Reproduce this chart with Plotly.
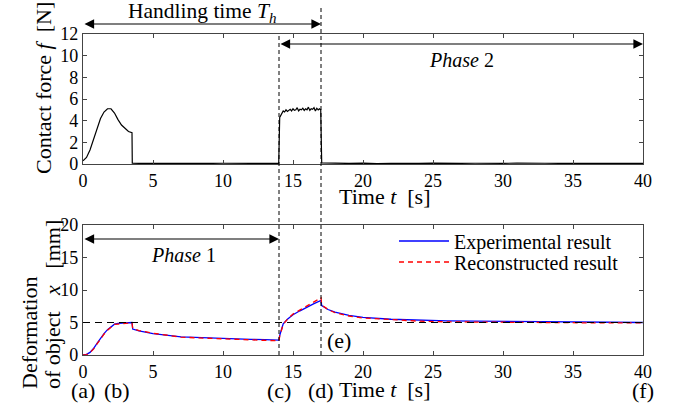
import plotly.graph_objects as go

# ---- Data: contact force (top panel) ----
force_t = [0, 0.25, 0.5, 0.75, 1.0, 1.25, 1.5, 1.75, 2.0, 2.25, 2.5, 2.75, 3.0, 3.25, 3.5, 3.52,
           4, 5, 6, 7, 8, 9, 10, 11, 12, 13, 13.98,
           14.05, 14.2, 14.3, 14.4, 14.5, 14.6, 14.7, 14.8, 14.9, 15.0, 15.1, 15.2, 15.3, 15.4, 15.5,
           15.6, 15.7, 15.8, 15.9, 16.0, 16.1, 16.2, 16.3, 16.4, 16.5, 16.6, 16.7, 16.8, 16.9, 16.98,
           17.05, 18, 19, 20, 21, 22, 23, 24, 25, 26, 27, 28, 29, 30, 31, 32, 33, 34, 35, 36, 37, 38, 39, 40]
force_f = [0.3, 0.6, 1.3, 2.3, 3.3, 4.2, 4.8, 5.1, 5.1, 4.7, 4.1, 3.6, 3.3, 3.0, 2.9, 0.08,
           0.06, 0.05, 0.08, 0.04, 0.06, 0.05, 0.07, 0.04, 0.06, 0.05, 0.05,
           4.3, 4.75, 4.9, 4.8, 5.0, 4.85, 4.95, 5.05, 4.9, 5.1, 4.95, 5.0, 5.2, 4.9, 5.05,
           5.0, 5.15, 4.95, 5.1, 5.0, 5.25, 4.95, 5.1, 5.05, 5.2, 4.9, 5.15, 5.0, 5.1, 5.0,
           0.1, 0.06, 0.05, 0.08, 0.04, 0.07, 0.05, 0.06, 0.08, 0.05, 0.06, 0.07, 0.04, 0.06, 0.08,
           0.05, 0.07, 0.06, 0.05, 0.08, 0.06, 0.05, 0.07, 0.06, 0.05]

# ---- Data: deformation (bottom panel) ----
def_t = [0, 0.25, 0.5, 0.75, 1.0, 1.25, 1.5, 1.75, 2.0, 2.25, 2.5, 3.0, 3.5, 3.55, 4, 5, 6, 7, 8, 9,
         10, 11, 12, 13, 14, 14.05, 14.3, 14.6, 15, 15.5, 16, 16.5, 17, 17.05, 17.5, 18, 19, 20,
         22, 24, 26, 28, 30, 32, 34, 36, 38, 40]
exp_x = [0, 0.1, 0.4, 1.0, 1.8, 2.6, 3.3, 3.9, 4.4, 4.75, 4.85, 4.9, 5.0, 4.0, 3.7, 3.3, 3.0, 2.8, 2.7, 2.6,
         2.5, 2.45, 2.4, 2.35, 2.3, 3.0, 4.8, 5.5, 6.2, 6.8, 7.4, 7.9, 8.4, 7.6, 7.0, 6.6, 6.1, 5.8,
         5.5, 5.35, 5.25, 5.2, 5.15, 5.1, 5.05, 5.05, 5.0, 5.0]
rec_x = [0, 0.05, 0.35, 0.9, 1.7, 2.5, 3.2, 3.8, 4.3, 4.7, 4.75, 4.8, 4.95, 4.1, 3.75, 3.35, 3.05, 2.75, 2.65, 2.55,
         2.45, 2.35, 2.3, 2.25, 2.2, 2.9, 4.7, 5.5, 6.3, 6.9, 7.5, 8.1, 8.8, 7.7, 7.0, 6.5, 6.0, 5.7,
         5.4, 5.2, 5.1, 5.05, 5.0, 5.0, 4.95, 4.95, 4.95, 4.95]

x_ticks = [0, 5, 10, 15, 20, 25, 30, 35, 40]
force_ticks = [0, 2, 4, 6, 8, 10, 12]
def_ticks = [0, 5, 10, 15, 20]

FONT = "Liberation Serif"
AX = "#444444"
W, H = 673, 404
SL, SR = 83, 643             # plot area in screen pixels

fig = go.Figure()
fig.add_trace(go.Scatter(x=force_t, y=force_f, mode="lines", line=dict(color="black", width=1.2),
                         showlegend=False, xaxis="x", yaxis="y"))
fig.add_trace(go.Scatter(x=def_t, y=exp_x, mode="lines", line=dict(color="blue", width=1.3),
                         name="Experimental result", xaxis="x2", yaxis="y2", legend="legend"))
fig.add_trace(go.Scatter(x=def_t, y=rec_x, mode="lines", line=dict(color="red", width=1.3, dash="5px,4px"),
                         name="Reconstructed result", xaxis="x2", yaxis="y2", legend="legend2"))

def py(s):
    return 1 - s / H

def pxx(s):
    return (s - SL) / (SR - SL)

axis_common = dict(showline=True, linecolor=AX, linewidth=1.2, mirror="ticks", ticks="inside",
                   ticklen=4, tickcolor=AX, showgrid=False, zeroline=False, automargin=False,
                   tickfont=dict(family=FONT, size=18, color="black"))

leg_common = dict(xanchor="left", yanchor="middle", bgcolor="rgba(0,0,0,0)",
                  font=dict(family=FONT, size=20), itemwidth=50)

fig.update_layout(
    template="none",
    width=W, height=H, margin=dict(l=SL, r=W - SR, t=0, b=0, pad=0, autoexpand=False),
    plot_bgcolor="white", paper_bgcolor="white",
    font=dict(family=FONT, color="black"),
    xaxis=dict(domain=[0, 1], range=[0, 40], tickvals=x_ticks, anchor="y", **axis_common),
    yaxis=dict(domain=[py(164), py(34)], range=[0, 12], tickvals=force_ticks, anchor="x", **axis_common),
    xaxis2=dict(domain=[0, 1], range=[0, 40], tickvals=x_ticks, anchor="y2", **axis_common),
    yaxis2=dict(domain=[py(355), py(225)], range=[0, 20], tickvals=def_ticks, anchor="x2", **axis_common),
    legend=dict(x=pxx(394), y=py(241), **leg_common),
    legend2=dict(x=pxx(394), y=py(262), **leg_common),
)

# dashed vertical lines and horizontal reference
fig.add_shape(type="line", xref="x", yref="paper", x0=14, x1=14, y0=py(355), y1=py(35),
              line=dict(color="black", width=1, dash="4px,3px"))
fig.add_shape(type="line", xref="x", yref="paper", x0=17, x1=17, y0=py(355), y1=py(8),
              line=dict(color="black", width=1, dash="4px,3px"))
fig.add_shape(type="line", xref="x2", yref="y2", x0=0, x1=40, y0=5, y1=5,
              line=dict(color="black", width=1, dash="7px,5px"))

def dbl_arrow(x0, x1, ys, xref):
    fig.add_annotation(x=x1, y=py(ys), ax=x0, ay=0, xref=xref, yref="paper",
                       axref=xref, ayref="pixel", showarrow=True, arrowhead=2, arrowsize=1.6,
                       arrowwidth=1.2, arrowside="end+start", arrowcolor="black", text="")

dbl_arrow(0, 17, 24, "x")
dbl_arrow(14, 40, 44, "x")
dbl_arrow(0, 14, 239, "x2")

def label(text, x, ys, xref="x", size=17, textangle=0):
    fig.add_annotation(x=x, y=py(ys), xref=xref, yref="paper", text=text, showarrow=False,
                       font=dict(family=FONT, size=size, color="black"), xanchor="center",
                       yanchor="middle", textangle=textangle)

label("Handling time <i>T<sub>h</sub></i>", 8.5, 12, size=21.5)
label("<i>Phase</i> 2", 27.0, 60, size=20)
label("<i>Phase</i> 1", 7.15, 255, "x2", size=20)
label("Time <i>t</i>&nbsp;&nbsp;[s]", 21.6, 196, size=22)
label("Time <i>t</i>&nbsp;&nbsp;[s]", 21.6, 389, "x2", size=22)
label("(a)", 0, 390, "x2", size=22)
label("(b)", 2.4, 390, "x2", size=22)
label("(c)", 14, 390, "x2", size=22)
label("(d)", 17, 390, "x2", size=22)
label("(f)", 40, 390, "x2", size=22)
label("(e)", 18.3, 340, "x2", size=22)

label("Contact force <i>f</i>&nbsp;&nbsp;[N]", pxx(44), 88, "paper", size=22, textangle=-90)
label("Deformation", pxx(29), 333, "paper", size=22, textangle=-90)
label("of object&nbsp;&nbsp;&nbsp;<i>x</i>&nbsp;&nbsp;&nbsp;[mm]", pxx(52), 305, "paper", size=22, textangle=-90)

fig.write_html("out.html", post_script="document.body.style.margin='0';",
               config={"displayModeBar": False})
